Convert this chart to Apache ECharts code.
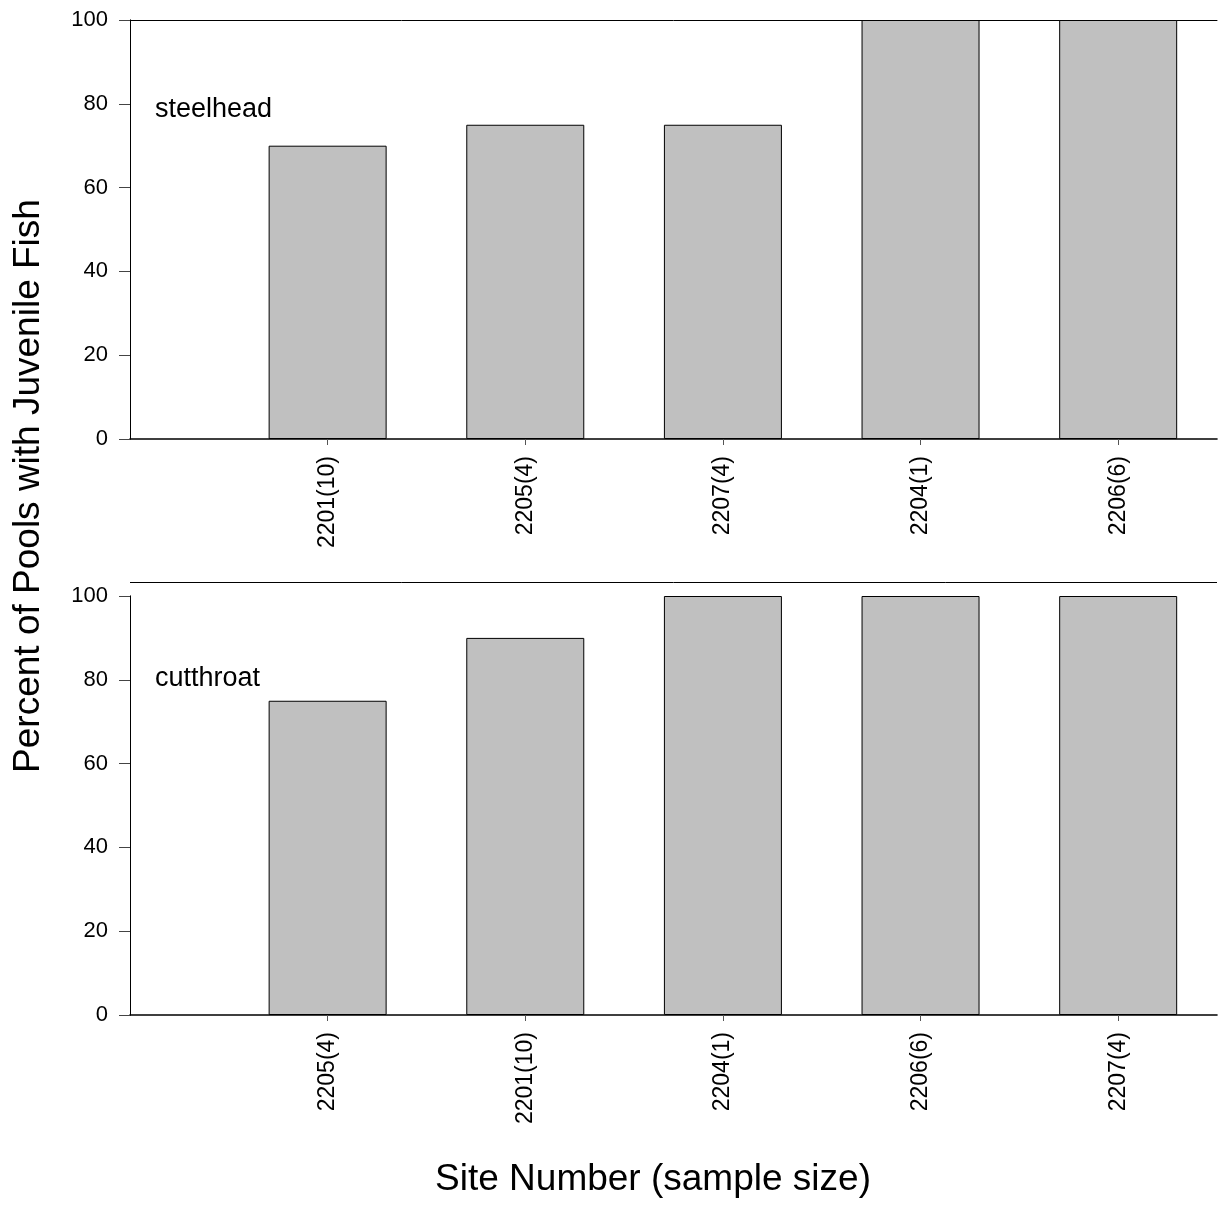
<!DOCTYPE html>
<html>
<head>
<meta charset="utf-8">
<script src="https://cdn.jsdelivr.net/npm/echarts@6/dist/echarts.min.js"></script>
<style>html,body{margin:0;padding:0;background:#fff}#c{width:1220px;height:1205px}</style>
</head>
<body>
<div id="c"></div>
<script>
const steelheadSites = ['2201(10)', '2205(4)', '2207(4)', '2204(1)', '2206(6)'];
const steelheadValues = [70, 75, 75, 100, 100];
const cutthroatSites = ['2205(4)', '2201(10)', '2204(1)', '2206(6)', '2207(4)'];
const cutthroatValues = [75, 90, 100, 100, 100];
const yTicks = [0, 20, 40, 60, 80, 100];
const positions = [1, 2, 3, 4, 5];

const FONT = '"Liberation Sans", Arial, sans-serif';
const chart = echarts.init(document.getElementById('c'), null, {renderer: 'canvas'});

function xAxisFor(gridIndex, names) {
  return {
    type: 'value', gridIndex: gridIndex, min: 0, max: 5.5, position: 'bottom',
    splitLine: {show: false},
    axisLine: {show: true, onZero: false, lineStyle: {color: '#000', width: 1.6}},
    axisTick: {show: true, length: 6, customValues: positions, lineStyle: {color: '#555'}},
    axisLabel: {
      customValues: positions, rotate: 90, margin: 17,
      fontFamily: FONT, fontSize: 23, color: '#000',
      formatter: v => names[Math.round(v) - 1] || ''
    }
  };
}
function topAxisFor(gridIndex) {
  return {
    type: 'value', gridIndex: gridIndex, min: 0, max: 5.5, position: 'top',
    splitLine: {show: false}, axisTick: {show: false}, axisLabel: {show: false},
    axisLine: {show: gridIndex === 0, onZero: false, lineStyle: {color: '#000', width: 1}}
  };
}
function yAxisFor(gridIndex) {
  return {
    type: 'value', gridIndex: gridIndex, min: 0, max: 100, interval: 20,
    splitLine: {show: false},
    axisLine: {show: true, lineStyle: {color: '#444', width: 1}},
    axisTick: {show: true, length: 11, inside: false, lineStyle: {color: '#444'}},
    axisLabel: {margin: 22, fontFamily: FONT, fontSize: 22, color: '#000',
      customValues: yTicks}
  };
}
function rightAxisFor(gridIndex) {
  return {
    type: 'value', gridIndex: gridIndex, min: 0, max: 100, position: 'right',
    splitLine: {show: false}, axisTick: {show: false}, axisLabel: {show: false},
    axisLine: {show: true, lineStyle: {color: '#000', width: 1}}
  };
}
function barSeries(idx, values) {
  return {
    type: 'bar', xAxisIndex: idx * 2, yAxisIndex: idx * 2,
    data: values.map((v, i) => [positions[i], v]),
    barWidth: 118,
    itemStyle: {color: '#c0c0c0', borderColor: '#000', borderWidth: 1},
    silent: true, animation: false
  };
}

chart.setOption({
  animation: false,
  grid: [
    {left: 130, right: 3, top: 20, height: 419},
    {left: 130, right: 3, top: 596, height: 419}
  ],
  xAxis: [xAxisFor(0, steelheadSites), topAxisFor(0), xAxisFor(1, cutthroatSites), topAxisFor(1)],
  yAxis: [yAxisFor(0), rightAxisFor(0), yAxisFor(1), rightAxisFor(1)],
  series: [barSeries(0, steelheadValues), barSeries(1, cutthroatValues)],
  graphic: [
    {type: 'line', shape: {x1: 130, y1: 582.5, x2: 1217, y2: 582.5}, style: {stroke: '#000', lineWidth: 1}},
    {type: 'text', x: 155, y: 110, style: {text: 'steelhead', font: '27px ' + FONT, fill: '#000', verticalAlign: 'middle'}},
    {type: 'text', x: 155, y: 679, style: {text: 'cutthroat', font: '27px ' + FONT, fill: '#000', verticalAlign: 'middle'}},
    {type: 'text', x: 29, y: 486, rotation: Math.PI / 2,
      style: {text: 'Percent of Pools with Juvenile Fish', font: '37px ' + FONT, fill: '#000', align: 'center', verticalAlign: 'middle'}},
    {type: 'text', x: 653, y: 1180,
      style: {text: 'Site Number (sample size)', font: '37px ' + FONT, fill: '#000', align: 'center', verticalAlign: 'middle'}}
  ]
});
</script>
</body>
</html>
